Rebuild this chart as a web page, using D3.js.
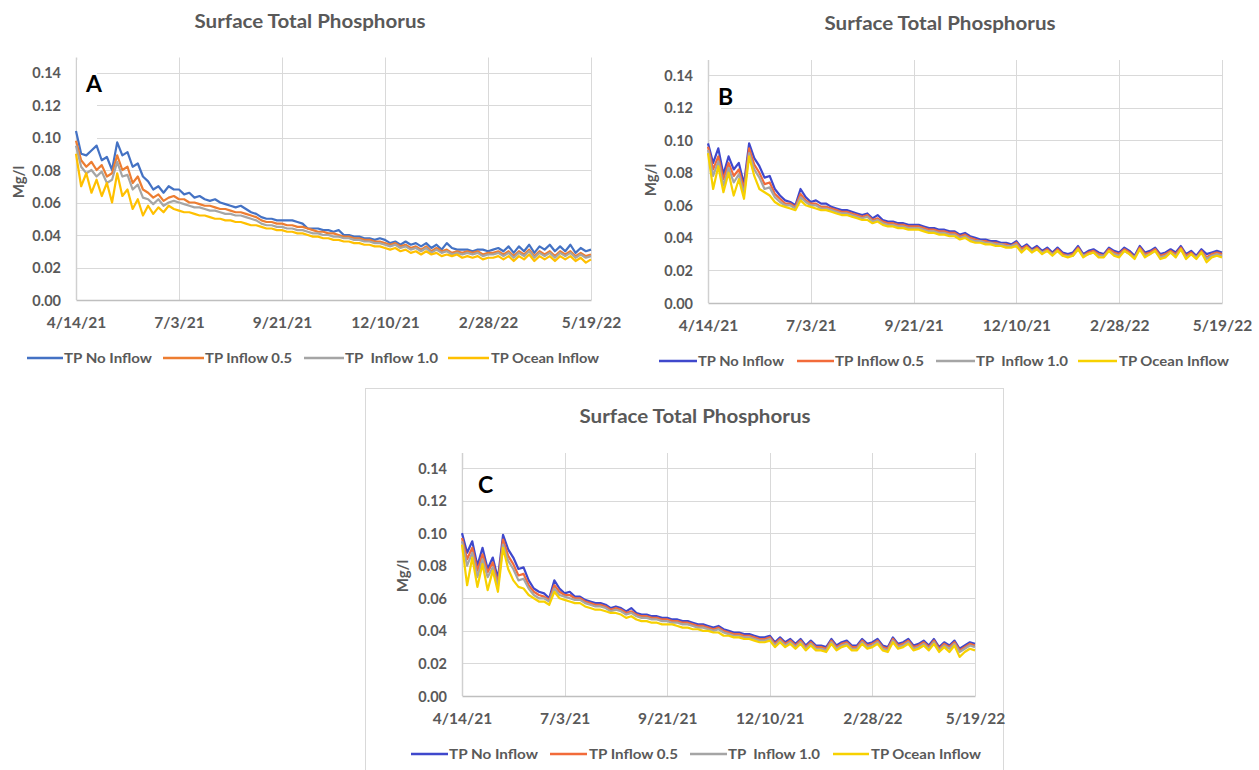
<!DOCTYPE html>
<html>
<head>
<meta charset="utf-8">
<script src="https://cdn.jsdelivr.net/npm/d3@7"></script>
<style>
  html, body { margin: 0; padding: 0; background: #ffffff; }
  svg { display: block; }
  text { font-family: Lato, "Open Sans", "Liberation Sans", sans-serif; }
</style>
</head>
<body>
<svg id="chart" width="1259" height="770"></svg>
<script>
// ---- data -------------------------------------------------------------
// Model output sampled every 4 days from 4/14/21 through 5/19/22 (mg/L)
const startDay = "4/14/21";
const sampleStepDays = 4;
const seriesNames = ["TP No Inflow", "TP Inflow 0.5", "TP  Inflow 1.0", "TP Ocean Inflow"];
const xTickLabels = ["4/14/21", "7/3/21", "9/21/21", "12/10/21", "2/28/22", "5/19/22"];
const yTickValues = [0, 0.02, 0.04, 0.06, 0.08, 0.10, 0.12, 0.14];

// Scenario A
const aNoInflow = [
  0.104, 0.090, 0.089, 0.092, 0.095, 0.086, 0.088, 0.080, 0.097, 0.089, 0.091, 0.082, 0.084, 0.076, 0.073, 0.068, 0.070, 0.066, 0.070, 0.068,
  0.068, 0.065, 0.066, 0.063, 0.064, 0.062, 0.061, 0.062, 0.060, 0.059,
  0.058, 0.057, 0.058, 0.056, 0.054, 0.053, 0.051, 0.050, 0.050, 0.049,
  0.049, 0.049, 0.049, 0.048, 0.047, 0.044, 0.044, 0.044, 0.043, 0.043,
  0.042, 0.043, 0.040, 0.040, 0.039, 0.039, 0.038, 0.038, 0.037, 0.038,
  0.037, 0.035, 0.036, 0.034, 0.036, 0.034, 0.035, 0.033, 0.035, 0.032,
  0.034, 0.031, 0.035, 0.032, 0.031, 0.031, 0.031, 0.030, 0.031, 0.031,
  0.030, 0.031, 0.032, 0.030, 0.033, 0.029, 0.033, 0.030, 0.034, 0.029,
  0.033, 0.031, 0.034, 0.030, 0.033, 0.030, 0.034, 0.029, 0.032, 0.030, 0.031
];
const aInflow05 = [
  0.098, 0.086, 0.082, 0.085, 0.080, 0.083, 0.076, 0.078, 0.089, 0.080, 0.082, 0.072, 0.076, 0.068, 0.066, 0.063, 0.065, 0.061, 0.063, 0.064,
  0.062, 0.062, 0.060, 0.060, 0.059, 0.058, 0.058, 0.057, 0.056, 0.056,
  0.055, 0.054, 0.054, 0.053, 0.052, 0.051, 0.049, 0.048, 0.048, 0.047,
  0.047, 0.046, 0.046, 0.045, 0.045, 0.044, 0.043, 0.042, 0.042, 0.041,
  0.041, 0.040, 0.039, 0.039, 0.038, 0.038, 0.037, 0.037, 0.036, 0.036,
  0.035, 0.034, 0.035, 0.033, 0.034, 0.032, 0.033, 0.031, 0.033, 0.030,
  0.032, 0.030, 0.031, 0.029, 0.030, 0.029, 0.030, 0.029, 0.030, 0.028,
  0.029, 0.029, 0.030, 0.028, 0.030, 0.027, 0.030, 0.028, 0.031, 0.027,
  0.030, 0.028, 0.030, 0.027, 0.030, 0.028, 0.030, 0.027, 0.029, 0.027, 0.028
];
const aInflow10 = [
  0.095, 0.082, 0.078, 0.080, 0.076, 0.079, 0.072, 0.074, 0.085, 0.076, 0.077, 0.068, 0.071, 0.063, 0.062, 0.059, 0.062, 0.058, 0.060, 0.061,
  0.060, 0.059, 0.058, 0.057, 0.057, 0.056, 0.055, 0.055, 0.054, 0.053,
  0.053, 0.052, 0.052, 0.051, 0.050, 0.049, 0.047, 0.046, 0.046, 0.045,
  0.045, 0.044, 0.044, 0.043, 0.043, 0.042, 0.041, 0.041, 0.040, 0.040,
  0.039, 0.039, 0.038, 0.038, 0.037, 0.037, 0.036, 0.036, 0.035, 0.035,
  0.034, 0.033, 0.034, 0.032, 0.033, 0.031, 0.032, 0.030, 0.032, 0.029,
  0.031, 0.029, 0.030, 0.028, 0.029, 0.028, 0.029, 0.028, 0.029, 0.027,
  0.028, 0.028, 0.029, 0.027, 0.029, 0.026, 0.029, 0.027, 0.030, 0.026,
  0.029, 0.027, 0.029, 0.026, 0.029, 0.027, 0.029, 0.026, 0.028, 0.026, 0.027
];
const aOcean = [
  0.090, 0.070, 0.078, 0.066, 0.074, 0.064, 0.072, 0.060, 0.078, 0.064, 0.068, 0.056, 0.062, 0.052, 0.058, 0.053, 0.057, 0.054, 0.058, 0.056,
  0.055, 0.054, 0.054, 0.053, 0.052, 0.052, 0.051, 0.050, 0.050, 0.049,
  0.049, 0.048, 0.048, 0.047, 0.046, 0.046, 0.045, 0.044, 0.044, 0.043,
  0.043, 0.042, 0.042, 0.041, 0.041, 0.040, 0.039, 0.039, 0.038, 0.038,
  0.037, 0.037, 0.036, 0.036, 0.035, 0.035, 0.034, 0.034, 0.033, 0.033,
  0.032, 0.031, 0.032, 0.030, 0.031, 0.029, 0.030, 0.028, 0.030, 0.028,
  0.029, 0.027, 0.028, 0.027, 0.028, 0.026, 0.027, 0.026, 0.027, 0.025,
  0.026, 0.026, 0.027, 0.025, 0.027, 0.024, 0.027, 0.025, 0.028, 0.024,
  0.027, 0.025, 0.027, 0.024, 0.027, 0.025, 0.027, 0.024, 0.026, 0.023, 0.025
];

// Scenario B
const bNoInflow = [
  0.098, 0.086, 0.095, 0.079, 0.090, 0.082, 0.086, 0.073, 0.098, 0.089, 0.084, 0.077, 0.078, 0.070, 0.066, 0.063, 0.062, 0.060, 0.070, 0.065,
  0.062, 0.063, 0.061, 0.061, 0.059, 0.058, 0.057, 0.057, 0.056, 0.055,
  0.054, 0.055, 0.052, 0.054, 0.051, 0.050, 0.050, 0.049, 0.049, 0.048,
  0.048, 0.048, 0.047, 0.046, 0.046, 0.045, 0.045, 0.044, 0.044, 0.042,
  0.043, 0.041, 0.040, 0.039, 0.039, 0.038, 0.038, 0.037, 0.037, 0.036,
  0.038, 0.034, 0.036, 0.033, 0.035, 0.032, 0.034, 0.031, 0.034, 0.031,
  0.030, 0.031, 0.035, 0.030, 0.032, 0.033, 0.031, 0.030, 0.034, 0.032,
  0.031, 0.034, 0.032, 0.029, 0.035, 0.031, 0.032, 0.034, 0.030, 0.031,
  0.033, 0.031, 0.035, 0.030, 0.032, 0.029, 0.033, 0.030, 0.031, 0.032, 0.031
];
const bInflow05 = [
  0.096, 0.082, 0.090, 0.076, 0.086, 0.078, 0.082, 0.070, 0.095, 0.085, 0.080, 0.073, 0.074, 0.067, 0.064, 0.061, 0.061, 0.059, 0.067, 0.063,
  0.061, 0.061, 0.059, 0.059, 0.058, 0.057, 0.056, 0.056, 0.055, 0.054,
  0.053, 0.054, 0.051, 0.052, 0.050, 0.049, 0.049, 0.048, 0.048, 0.047,
  0.047, 0.047, 0.046, 0.045, 0.045, 0.044, 0.044, 0.043, 0.043, 0.041,
  0.042, 0.040, 0.039, 0.038, 0.038, 0.037, 0.037, 0.036, 0.036, 0.035,
  0.037, 0.033, 0.035, 0.032, 0.034, 0.031, 0.033, 0.030, 0.033, 0.030,
  0.029, 0.030, 0.034, 0.029, 0.031, 0.032, 0.030, 0.029, 0.033, 0.031,
  0.030, 0.033, 0.031, 0.028, 0.034, 0.030, 0.031, 0.033, 0.029, 0.030,
  0.032, 0.030, 0.034, 0.029, 0.031, 0.028, 0.032, 0.028, 0.030, 0.031, 0.030
];
const bInflow10 = [
  0.094, 0.078, 0.087, 0.072, 0.083, 0.074, 0.079, 0.067, 0.092, 0.082, 0.077, 0.070, 0.071, 0.065, 0.062, 0.060, 0.060, 0.058, 0.065, 0.062,
  0.060, 0.060, 0.058, 0.058, 0.057, 0.056, 0.055, 0.055, 0.054, 0.053,
  0.052, 0.053, 0.050, 0.051, 0.049, 0.048, 0.048, 0.047, 0.047, 0.046,
  0.046, 0.046, 0.045, 0.044, 0.044, 0.043, 0.043, 0.042, 0.042, 0.040,
  0.041, 0.039, 0.038, 0.038, 0.037, 0.037, 0.036, 0.036, 0.035, 0.035,
  0.036, 0.032, 0.034, 0.032, 0.033, 0.031, 0.032, 0.030, 0.032, 0.029,
  0.029, 0.029, 0.033, 0.029, 0.030, 0.031, 0.029, 0.029, 0.032, 0.030,
  0.029, 0.032, 0.030, 0.028, 0.033, 0.029, 0.030, 0.032, 0.028, 0.029,
  0.031, 0.029, 0.033, 0.028, 0.030, 0.028, 0.031, 0.027, 0.029, 0.030, 0.029
];
const bOcean = [
  0.092, 0.070, 0.084, 0.068, 0.080, 0.066, 0.076, 0.064, 0.090, 0.078, 0.070, 0.068, 0.066, 0.062, 0.060, 0.059, 0.058, 0.057, 0.063, 0.060,
  0.059, 0.058, 0.057, 0.057, 0.056, 0.055, 0.054, 0.054, 0.053, 0.052,
  0.051, 0.051, 0.049, 0.050, 0.048, 0.047, 0.047, 0.046, 0.046, 0.045,
  0.045, 0.045, 0.044, 0.043, 0.043, 0.042, 0.042, 0.041, 0.041, 0.039,
  0.040, 0.038, 0.037, 0.037, 0.036, 0.036, 0.035, 0.035, 0.034, 0.034,
  0.035, 0.031, 0.034, 0.031, 0.033, 0.030, 0.032, 0.029, 0.032, 0.029,
  0.028, 0.029, 0.033, 0.028, 0.030, 0.031, 0.028, 0.028, 0.032, 0.029,
  0.028, 0.032, 0.030, 0.027, 0.033, 0.028, 0.030, 0.032, 0.027, 0.028,
  0.031, 0.028, 0.033, 0.027, 0.030, 0.027, 0.031, 0.025, 0.028, 0.029, 0.028
];

// Scenario C
const cNoInflow = [
  0.100, 0.088, 0.095, 0.080, 0.091, 0.078, 0.085, 0.072, 0.099, 0.090, 0.085, 0.078, 0.079, 0.071, 0.066, 0.064, 0.063, 0.060, 0.071, 0.066,
  0.063, 0.064, 0.061, 0.061, 0.059, 0.058, 0.057, 0.057, 0.056, 0.054,
  0.055, 0.054, 0.052, 0.054, 0.051, 0.050, 0.050, 0.049, 0.049, 0.048,
  0.048, 0.047, 0.047, 0.046, 0.046, 0.045, 0.044, 0.044, 0.043, 0.042,
  0.043, 0.041, 0.040, 0.039, 0.039, 0.038, 0.038, 0.037, 0.036, 0.036,
  0.037, 0.033, 0.036, 0.033, 0.035, 0.032, 0.035, 0.031, 0.034, 0.031,
  0.031, 0.030, 0.035, 0.031, 0.033, 0.034, 0.031, 0.031, 0.035, 0.032,
  0.033, 0.035, 0.031, 0.030, 0.036, 0.032, 0.033, 0.035, 0.031, 0.032,
  0.034, 0.031, 0.035, 0.030, 0.033, 0.031, 0.034, 0.029, 0.031, 0.033, 0.032
];
const cInflow05 = [
  0.097, 0.084, 0.091, 0.077, 0.087, 0.076, 0.082, 0.069, 0.096, 0.086, 0.081, 0.074, 0.075, 0.068, 0.064, 0.062, 0.061, 0.059, 0.068, 0.064,
  0.062, 0.062, 0.060, 0.060, 0.058, 0.057, 0.056, 0.056, 0.055, 0.053,
  0.054, 0.053, 0.051, 0.052, 0.050, 0.049, 0.049, 0.048, 0.048, 0.047,
  0.047, 0.046, 0.046, 0.045, 0.045, 0.044, 0.043, 0.043, 0.042, 0.041,
  0.042, 0.040, 0.039, 0.038, 0.038, 0.037, 0.037, 0.036, 0.035, 0.035,
  0.036, 0.032, 0.035, 0.032, 0.034, 0.031, 0.034, 0.030, 0.033, 0.030,
  0.030, 0.029, 0.034, 0.030, 0.032, 0.033, 0.030, 0.030, 0.034, 0.031,
  0.032, 0.034, 0.030, 0.029, 0.035, 0.031, 0.032, 0.034, 0.030, 0.031,
  0.033, 0.030, 0.034, 0.029, 0.032, 0.030, 0.033, 0.028, 0.030, 0.032, 0.031
];
const cInflow10 = [
  0.095, 0.080, 0.088, 0.073, 0.084, 0.073, 0.079, 0.067, 0.093, 0.083, 0.078, 0.071, 0.072, 0.066, 0.062, 0.060, 0.060, 0.058, 0.066, 0.062,
  0.061, 0.060, 0.059, 0.059, 0.057, 0.056, 0.055, 0.055, 0.054, 0.052,
  0.053, 0.052, 0.050, 0.051, 0.049, 0.048, 0.048, 0.047, 0.047, 0.046,
  0.046, 0.045, 0.045, 0.044, 0.044, 0.043, 0.042, 0.042, 0.041, 0.040,
  0.041, 0.039, 0.038, 0.037, 0.037, 0.036, 0.036, 0.035, 0.034, 0.034,
  0.035, 0.031, 0.034, 0.031, 0.033, 0.030, 0.033, 0.029, 0.032, 0.029,
  0.029, 0.028, 0.033, 0.029, 0.031, 0.032, 0.029, 0.029, 0.033, 0.030,
  0.031, 0.033, 0.029, 0.028, 0.034, 0.030, 0.031, 0.033, 0.029, 0.030,
  0.032, 0.029, 0.033, 0.028, 0.031, 0.029, 0.032, 0.027, 0.029, 0.031, 0.030
];
const cOcean = [
  0.093, 0.068, 0.085, 0.067, 0.081, 0.065, 0.077, 0.064, 0.091, 0.078, 0.071, 0.067, 0.066, 0.062, 0.060, 0.058, 0.058, 0.056, 0.064, 0.060,
  0.059, 0.058, 0.057, 0.057, 0.055, 0.054, 0.053, 0.053, 0.052, 0.051,
  0.051, 0.050, 0.048, 0.049, 0.047, 0.046, 0.046, 0.045, 0.045, 0.044,
  0.044, 0.044, 0.043, 0.042, 0.042, 0.041, 0.041, 0.040, 0.040, 0.039,
  0.039, 0.037, 0.037, 0.036, 0.036, 0.035, 0.035, 0.034, 0.033, 0.033,
  0.034, 0.030, 0.033, 0.030, 0.032, 0.029, 0.032, 0.028, 0.031, 0.028,
  0.028, 0.027, 0.032, 0.028, 0.030, 0.031, 0.028, 0.028, 0.032, 0.029,
  0.030, 0.032, 0.028, 0.027, 0.033, 0.029, 0.030, 0.032, 0.028, 0.029,
  0.031, 0.028, 0.032, 0.027, 0.030, 0.027, 0.031, 0.024, 0.027, 0.029, 0.028
];

// ---- layout -----------------------------------------------------------
const panels = [
  {
    label: "A", series: [aNoInflow, aInflow05, aInflow10, aOcean],
    colors: ["#4472C4", "#ED7D31", "#A5A5A5", "#FFC000"],
    left: 76, right: 591, yTop: 72.5, yBottom: 300,
    titleX: 310, titleY: 28, yTitleX: 19, yTitleY: 182,
    xLabelY: 328, labelX: 86, labelY: 92, labelBox: [77, 60, 20, 80],
    legendY: 358,
    legend: [[27, 63, 64, 88], [163, 204, 205, 87], [304, 344, 345, 93], [448, 489, 491, 108]]
  },
  {
    label: "B", series: [bNoInflow, bInflow05, bInflow10, bOcean],
    colors: ["#3F48CC", "#F26B3A", "#A5A5A5", "#F7D100"],
    left: 708, right: 1222, yTop: 75, yBottom: 303,
    titleX: 940, titleY: 30, yTitleX: 651, yTitleY: 180,
    xLabelY: 331, labelX: 718, labelY: 105, labelBox: [709, 82, 12, 30],
    legendY: 361,
    legend: [[659, 697, 698, 86], [797, 834, 835, 89], [936, 975, 976, 92], [1078, 1117, 1119, 110]]
  },
  {
    label: "C", series: [cNoInflow, cInflow05, cInflow10, cOcean],
    colors: ["#3F48CC", "#F26B3A", "#A5A5A5", "#F7D100"],
    left: 462, right: 975, yTop: 468, yBottom: 696,
    titleX: 695, titleY: 423, yTitleX: 403, yTitleY: 576,
    xLabelY: 724, labelX: 478, labelY: 493, labelBox: [463, 470, 10, 30],
    legendY: 754,
    legend: [[411, 448, 449, 89], [550, 587, 589, 89], [690, 727, 728, 92], [833, 869, 871, 110]]
  }
];

// ---- drawing ----------------------------------------------------------
const svg = d3.select("#chart");
const parseDate = d3.timeParse("%m/%d/%y");
const fmtDate = d3.timeFormat("%-m/%-d/%y");
const start = parseDate(startDay);
const tickDates = xTickLabels.map(parseDate);
const end = tickDates[tickDates.length - 1];

// Frame around the third chart
svg.append("rect")
  .attr("x", 365.5).attr("y", 388.5)
  .attr("width", 638).attr("height", 400)
  .attr("fill", "#ffffff").attr("stroke", "#d9d9d9").attr("stroke-width", 1);

panels.forEach(p => {
  const g = svg.append("g");
  const x = d3.scaleTime().domain([start, end]).range([p.left, p.right]);
  const y = d3.scaleLinear().domain([0, 0.14]).range([p.yBottom, p.yTop]);
  const plotTop = p.yTop - 15;

  // horizontal gridlines
  g.append("g").selectAll("line")
    .data(yTickValues.filter(v => v > 0))
    .join("line")
    .attr("x1", p.left).attr("x2", p.right)
    .attr("y1", d => Math.round(y(d)) + 0.5).attr("y2", d => Math.round(y(d)) + 0.5)
    .attr("stroke", "#d9d9d9").attr("stroke-width", 1);

  // vertical gridlines
  g.append("g").selectAll("line")
    .data(tickDates.slice(1))
    .join("line")
    .attr("x1", d => Math.round(x(d)) + 0.5).attr("x2", d => Math.round(x(d)) + 0.5)
    .attr("y1", plotTop).attr("y2", p.yBottom)
    .attr("stroke", "#d9d9d9").attr("stroke-width", 1);

  // left axis line
  g.append("line")
    .attr("x1", p.left + 0.5).attr("x2", p.left + 0.5)
    .attr("y1", plotTop).attr("y2", p.yBottom)
    .attr("stroke", "#d0d0d0").attr("stroke-width", 1.5);

  // panel letter box keeps gridlines clear behind the letter
  g.append("rect")
    .attr("x", p.labelBox[0]).attr("y", p.labelBox[1])
    .attr("width", p.labelBox[2]).attr("height", p.labelBox[3])
    .attr("fill", "#ffffff");

  // y axis
  const yAxis = d3.axisLeft(y).tickValues(yTickValues).tickFormat(d3.format(".2f")).tickSize(0).tickPadding(0);
  const ya = g.append("g").attr("transform", `translate(${p.left - 15},0)`).call(yAxis);
  ya.select(".domain").remove();
  ya.selectAll("text")
    .attr("fill", "#595959").attr("font-size", 14.5).attr("font-weight", 700)
    .attr("dy", "0.35em");

  // x axis
  const xAxis = d3.axisBottom(x).tickValues(tickDates).tickFormat(fmtDate).tickSize(0).tickPadding(0);
  const xa = g.append("g").attr("transform", `translate(0,${p.yBottom})`).call(xAxis);
  xa.select(".domain").attr("stroke", "#bfbfbf").attr("stroke-width", 1.5);
  xa.selectAll("text")
    .attr("fill", "#595959").attr("font-size", 15.5).attr("font-weight", 700)
    .attr("y", p.xLabelY - p.yBottom).attr("dy", 0);

  // series lines
  const line = d3.line()
    .x((d, i) => x(d3.timeDay.offset(start, i * sampleStepDays)))
    .y(d => y(d));
  p.series.forEach((vals, k) => {
    g.append("path")
      .datum(vals)
      .attr("d", line)
      .attr("fill", "none")
      .attr("stroke", p.colors[k])
      .attr("stroke-width", 2.2)
      .attr("stroke-linejoin", "round");
  });

  // panel letter
  g.append("text")
    .attr("x", p.labelX).attr("y", p.labelY)
    .attr("font-size", 23).attr("font-weight", 700).attr("fill", "#000000")
    .text(p.label);

  // title
  g.append("text")
    .attr("x", p.titleX).attr("y", p.titleY)
    .attr("text-anchor", "middle")
    .attr("font-size", 18).attr("font-weight", 700).attr("fill", "#595959")
    .attr("textLength", 231).attr("lengthAdjust", "spacingAndGlyphs")
    .text("Surface Total Phosphorus");

  // y axis title
  g.append("text")
    .attr("transform", `translate(${p.yTitleX},${p.yTitleY}) rotate(-90)`)
    .attr("text-anchor", "middle").attr("dy", "0.35em")
    .attr("font-size", 15).attr("font-weight", 700).attr("fill", "#595959")
    .text("Mg/l");

  // legend
  const lg = g.append("g");
  p.legend.forEach((it, k) => {
    lg.append("line")
      .attr("x1", it[0]).attr("x2", it[1])
      .attr("y1", p.legendY).attr("y2", p.legendY)
      .attr("stroke", p.colors[k]).attr("stroke-width", 2.5);
    lg.append("text")
      .attr("x", it[2]).attr("y", p.legendY).attr("dy", "0.35em")
      .attr("font-size", 13.5).attr("font-weight", 700).attr("fill", "#595959")
      .attr("textLength", it[3]).attr("lengthAdjust", "spacingAndGlyphs")
      .style("white-space", "pre")
      .text(seriesNames[k]);
  });
});
</script>
</body>
</html>
